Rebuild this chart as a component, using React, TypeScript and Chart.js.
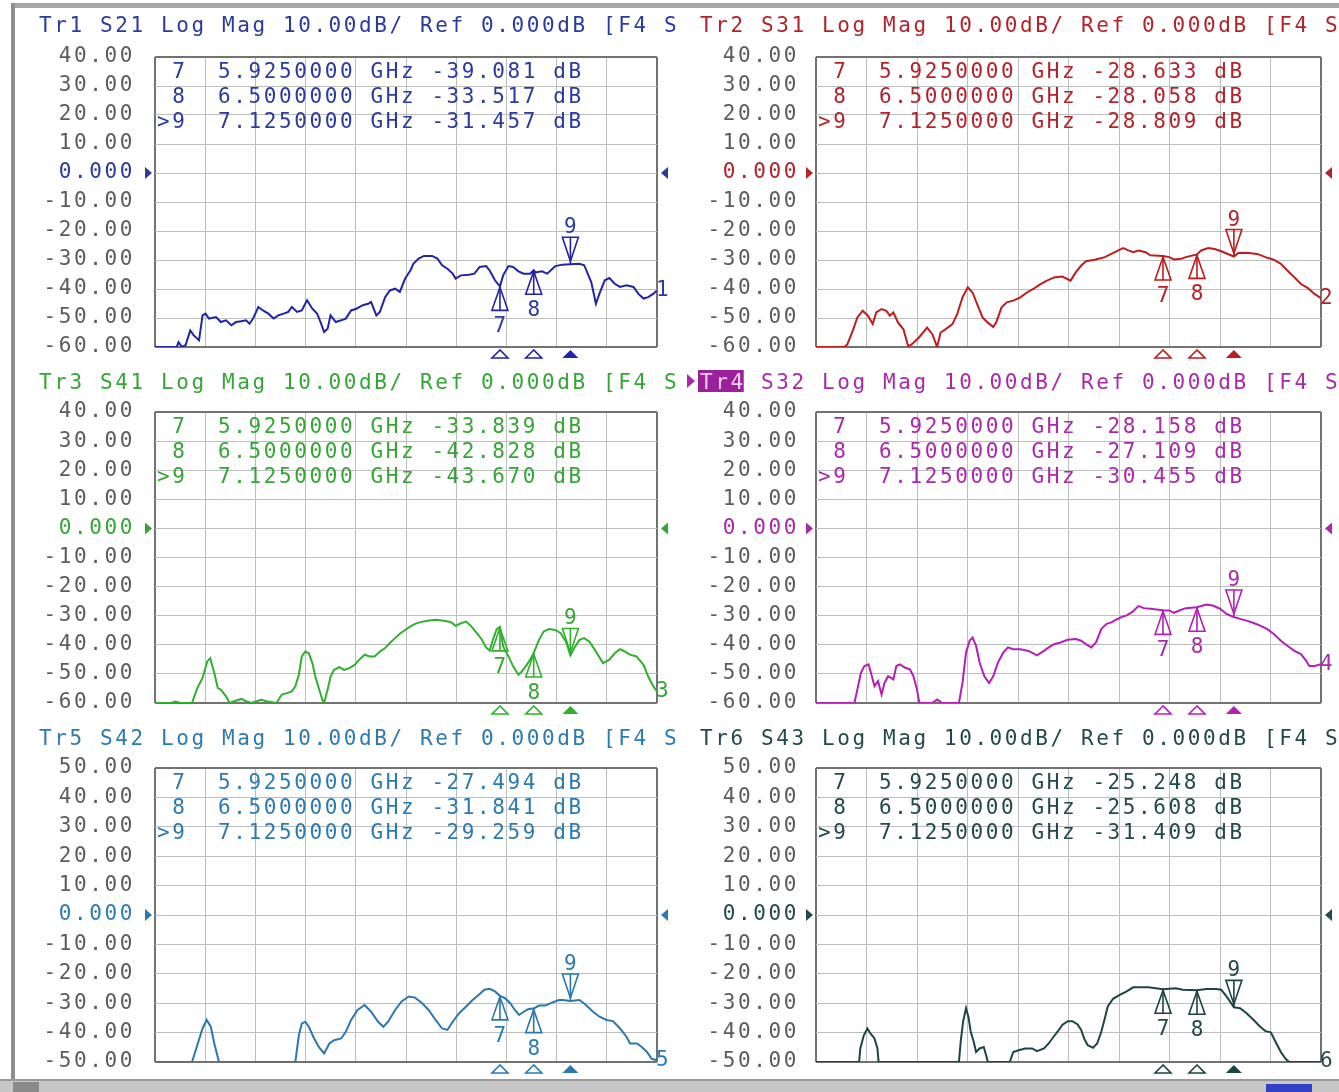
import React, { useEffect, useRef } from "react";
import { Chart, registerables } from "chart.js";

Chart.register(...registerables);

// ---------- style constants ----------
const FONT_FAMILY = '"DejaVu Sans Mono", "Liberation Mono", monospace';
const FONT_SIZE = 21;
const LETTER_SPACING = "2.6px";
const GRID_COLOR = "#bdbdbd";
const FRAME_COLOR = "#727272";
const LABEL_GRAY = "#5c5c5c";
const HIGHLIGHT_BG = "#9c1f9c";
const HIGHLIGHT_TEXT = "#f3d2f3";

// ---------- axis settings ----------
const FREQ_START = 0.05; // GHz
const FREQ_STOP = 8.6; // GHz
const X_DIVISIONS = 10;

// ---------- markers ----------
const markerNames = ["7", "8", "9"];
const markerFreqs = [5.925, 6.5, 7.125]; // GHz
const ACTIVE_MARKER = "9";

const s21Markers = [-39.081, -33.517, -31.457];
const s31Markers = [-28.633, -28.058, -28.809];
const s41Markers = [-33.839, -42.828, -43.67];
const s32Markers = [-28.158, -27.109, -30.455];
const s42Markers = [-27.494, -31.841, -29.259];
const s43Markers = [-25.248, -25.608, -31.409];

// ---------- traces: [GHz, dB] ----------
const s21Trace = [
  [0.05, -60], [0.42, -60], [0.45, -58.3], [0.51, -60], [0.57, -59.4], [0.65, -54.3], [0.71, -56.0], [0.8, -57.7],
  [0.86, -49.1], [0.91, -48.5], [0.97, -50.2], [1.09, -49.7], [1.17, -51.4], [1.26, -50.8], [1.35, -52.5], [1.43, -51.4],
  [1.52, -51.1], [1.6, -50.8], [1.66, -52.0], [1.72, -50.2], [1.81, -46.2], [1.89, -47.4], [1.98, -48.5], [2.07, -50.2],
  [2.15, -49.1], [2.24, -48.5], [2.32, -47.9], [2.38, -46.2], [2.47, -47.9], [2.55, -47.4], [2.64, -43.9], [2.73, -46.8],
  [2.81, -48.5], [2.87, -51.4], [2.93, -54.8], [2.99, -53.7], [3.04, -49.1], [3.13, -51.4], [3.22, -50.8], [3.3, -50.2],
  [3.39, -47.4], [3.48, -46.8], [3.59, -45.6], [3.68, -45.1], [3.73, -44.5], [3.82, -49.1], [3.88, -47.9], [3.97, -42.8],
  [4.05, -40.5], [4.14, -39.9], [4.22, -41.0], [4.31, -36.4], [4.4, -33.6], [4.45, -31.3], [4.54, -29.5], [4.63, -28.6],
  [4.77, -28.6], [4.86, -29.5], [4.94, -31.8], [5.03, -33.0], [5.12, -34.7], [5.17, -36.4], [5.26, -35.3], [5.4, -35.1],
  [5.49, -34.7], [5.58, -32.4], [5.69, -32.1], [5.75, -33.6], [5.84, -37.0], [5.925, -39.081], [5.98, -35.3], [6.07, -32.1],
  [6.15, -32.4], [6.24, -33.9], [6.33, -34.7], [6.44, -34.7], [6.5, -33.517], [6.53, -34.3], [6.64, -33.9], [6.73, -34.7],
  [6.82, -33.0], [6.87, -32.1], [6.99, -31.6], [7.125, -31.457], [7.28, -31.3], [7.36, -31.8], [7.42, -34.7], [7.48, -37.6],
  [7.56, -45.1], [7.62, -41.6], [7.71, -37.0], [7.79, -36.2], [7.88, -38.2], [7.97, -39.3], [8.08, -38.7], [8.2, -39.3],
  [8.28, -41.6], [8.37, -43.3], [8.45, -42.8], [8.54, -41.6], [8.6, -40.5],
];

const s31Trace = [
  [0.05, -60], [0.53, -60], [0.58, -59.1], [0.67, -54.5], [0.75, -49.8], [0.84, -47.5], [0.93, -49.2], [1.01, -52.1],
  [1.07, -48.1], [1.16, -46.9], [1.24, -47.5], [1.3, -49.2], [1.36, -48.1], [1.44, -51.6], [1.53, -53.9], [1.61, -59.7],
  [1.67, -59.1], [1.79, -56.8], [1.93, -53.3], [2.02, -55.6], [2.1, -60], [2.16, -55.0], [2.24, -53.9], [2.36, -52.1],
  [2.44, -48.7], [2.53, -42.9], [2.62, -39.4], [2.7, -41.2], [2.79, -45.8], [2.87, -49.8], [2.96, -51.6], [3.05, -53.1],
  [3.1, -51.6], [3.19, -46.4], [3.28, -44.6], [3.39, -44.0], [3.51, -42.9], [3.62, -41.2], [3.73, -40.0], [3.85, -38.3],
  [3.96, -37.1], [4.08, -36.0], [4.22, -35.7], [4.36, -37.1], [4.45, -34.2], [4.54, -31.9], [4.62, -30.4], [4.77, -29.9],
  [4.94, -29.0], [5.05, -27.9], [5.17, -26.7], [5.25, -25.9], [5.34, -26.7], [5.42, -27.3], [5.51, -26.7], [5.63, -27.3],
  [5.71, -28.4], [5.925, -28.633], [6.03, -29.0], [6.11, -29.8], [6.23, -29.6], [6.31, -29.0], [6.5, -28.058], [6.57, -26.7],
  [6.69, -25.9], [6.8, -26.2], [6.91, -27.0], [7.125, -28.809], [7.2, -27.6], [7.34, -27.5], [7.52, -27.9], [7.66, -29.0],
  [7.8, -29.9], [7.92, -31.3], [8.03, -33.6], [8.15, -36.0], [8.26, -38.3], [8.38, -39.7], [8.49, -41.7], [8.6, -43.2],
];

const s41Trace = [
  [0.05, -60], [0.31, -60], [0.4, -59.5], [0.48, -60], [0.68, -60], [0.77, -54.9], [0.86, -51.4], [0.94, -45.7],
  [0.99, -44.6], [1.06, -49.7], [1.12, -54.9], [1.17, -55.4], [1.26, -57.7], [1.32, -60], [1.4, -59.4], [1.52, -58.6],
  [1.6, -59.4], [1.69, -60], [1.78, -59.4], [1.86, -58.9], [1.95, -59.4], [2.12, -60], [2.21, -57.1], [2.3, -56.6],
  [2.38, -56.0], [2.44, -54.3], [2.5, -50.3], [2.55, -44.0], [2.61, -42.3], [2.67, -42.9], [2.73, -46.3], [2.78, -50.9],
  [2.84, -54.9], [2.9, -58.9], [2.93, -60], [2.99, -55.4], [3.04, -50.9], [3.1, -48.6], [3.19, -47.7], [3.27, -48.6],
  [3.36, -48.0], [3.45, -46.9], [3.53, -45.1], [3.62, -43.4], [3.71, -44.0], [3.79, -44.0], [3.88, -42.3], [3.97, -41.1],
  [4.05, -39.4], [4.14, -37.7], [4.22, -36.2], [4.31, -34.9], [4.4, -33.7], [4.48, -32.8], [4.57, -32.2], [4.69, -31.7],
  [4.83, -31.4], [4.97, -31.7], [5.09, -32.2], [5.17, -33.5], [5.26, -32.6], [5.35, -32.0], [5.43, -33.5], [5.52, -35.7],
  [5.61, -38.0], [5.69, -40.9], [5.75, -42.0], [5.81, -38.0], [5.87, -34.6], [5.925, -33.839], [5.98, -40.6], [6.07, -44.0],
  [6.15, -47.4], [6.24, -50.3], [6.3, -49.1], [6.38, -46.9], [6.44, -45.1], [6.5, -42.828], [6.59, -38.3], [6.67, -35.4],
  [6.76, -34.6], [6.87, -34.9], [6.96, -36.0], [7.05, -38.9], [7.125, -43.67], [7.19, -41.1], [7.28, -38.3], [7.36, -37.7],
  [7.45, -38.9], [7.56, -42.3], [7.68, -46.3], [7.79, -45.1], [7.88, -42.9], [7.97, -41.5], [8.05, -42.3], [8.14, -43.4],
  [8.25, -44.0], [8.37, -46.9], [8.45, -50.9], [8.54, -54.3], [8.6, -56.0],
];

const s32Trace = [
  [0.05, -60], [0.7, -60], [0.75, -55.4], [0.81, -49.6], [0.87, -47.3], [0.94, -46.7], [0.98, -49.6], [1.04, -54.2],
  [1.1, -52.5], [1.16, -57.1], [1.21, -53.1], [1.27, -50.8], [1.36, -51.9], [1.41, -47.3], [1.47, -46.7], [1.56, -47.9],
  [1.64, -48.4], [1.7, -50.8], [1.76, -55.4], [1.8, -60], [2.02, -60], [2.1, -58.8], [2.19, -60], [2.47, -60],
  [2.53, -53.1], [2.59, -42.7], [2.65, -38.6], [2.7, -37.5], [2.76, -40.3], [2.82, -46.1], [2.9, -50.8], [2.98, -53.1],
  [3.05, -50.8], [3.13, -46.1], [3.22, -42.7], [3.3, -40.9], [3.39, -41.5], [3.51, -41.5], [3.65, -42.1], [3.79, -43.6],
  [3.91, -42.1], [3.99, -40.9], [4.08, -39.8], [4.19, -39.2], [4.31, -38.3], [4.45, -38.0], [4.54, -38.6], [4.62, -39.8],
  [4.71, -40.9], [4.79, -39.2], [4.88, -34.6], [4.97, -32.8], [5.05, -32.3], [5.14, -31.3], [5.22, -30.5], [5.31, -29.9],
  [5.4, -28.8], [5.51, -26.7], [5.6, -27.4], [5.71, -27.6], [5.925, -28.158], [6.03, -28.2], [6.11, -29.0], [6.2, -28.2],
  [6.31, -27.4], [6.5, -27.109], [6.66, -26.2], [6.77, -26.5], [6.89, -27.6], [7.0, -29.4], [7.125, -30.455], [7.23, -31.1],
  [7.34, -31.7], [7.46, -32.5], [7.57, -33.4], [7.69, -34.6], [7.8, -36.3], [7.92, -38.6], [8.03, -40.3], [8.15, -42.1],
  [8.26, -43.2], [8.35, -45.5], [8.4, -47.3], [8.49, -47.3], [8.6, -46.7],
];

const s42Trace = [
  [0.05, -50], [0.68, -50], [0.77, -44.3], [0.86, -38.6], [0.93, -35.7], [1.0, -38.0], [1.06, -43.7], [1.14, -50],
  [2.44, -50], [2.5, -40.9], [2.55, -36.9], [2.61, -36.3], [2.67, -38.0], [2.76, -42.0], [2.84, -44.9], [2.93, -47.1],
  [3.02, -43.7], [3.1, -42.6], [3.22, -42.0], [3.3, -39.7], [3.39, -35.7], [3.5, -32.3], [3.62, -30.6], [3.73, -32.9],
  [3.85, -36.3], [3.94, -38.0], [4.02, -36.3], [4.14, -32.3], [4.25, -29.4], [4.37, -27.7], [4.48, -28.1], [4.6, -30.0],
  [4.71, -32.3], [4.83, -35.7], [4.94, -38.6], [5.03, -39.1], [5.12, -36.3], [5.23, -33.4], [5.35, -31.1], [5.46, -28.9],
  [5.58, -26.9], [5.66, -25.4], [5.75, -25.1], [5.84, -26.0], [5.925, -27.494], [6.01, -28.3], [6.1, -30.0], [6.18, -32.3],
  [6.25, -34.0], [6.33, -32.9], [6.41, -32.0], [6.5, -31.841], [6.59, -30.8], [6.7, -30.8], [6.82, -29.7], [6.93, -28.9],
  [6.99, -28.9], [7.125, -29.259], [7.28, -28.9], [7.39, -30.6], [7.51, -32.9], [7.62, -34.6], [7.74, -35.7], [7.85, -36.1],
  [7.97, -38.6], [8.08, -41.4], [8.14, -43.7], [8.26, -43.7], [8.34, -44.9], [8.43, -46.6], [8.51, -48.9], [8.6, -49.4],
];

const s43Trace = [
  [0.05, -50], [0.78, -50], [0.8, -45.4], [0.86, -40.9], [0.92, -38.6], [0.97, -40.3], [1.04, -42.0], [1.09, -45.4],
  [1.11, -50], [2.47, -50], [2.5, -43.1], [2.54, -36.3], [2.59, -31.7], [2.63, -34.6], [2.67, -39.7], [2.72, -43.1],
  [2.76, -46.6], [2.82, -45.4], [2.89, -44.9], [2.93, -47.7], [2.96, -50], [3.33, -50], [3.39, -46.6], [3.48, -46.0],
  [3.59, -45.4], [3.71, -45.4], [3.79, -46.3], [3.91, -45.4], [3.99, -43.7], [4.05, -42.0], [4.14, -39.7], [4.22, -37.4],
  [4.31, -36.1], [4.39, -36.1], [4.48, -37.2], [4.54, -39.1], [4.59, -42.0], [4.65, -44.3], [4.74, -45.2], [4.81, -43.7],
  [4.88, -39.7], [4.94, -35.1], [4.99, -31.1], [5.08, -28.5], [5.2, -27.1], [5.31, -26.0], [5.42, -24.6], [5.68, -24.6],
  [5.925, -25.248], [6.14, -24.9], [6.26, -25.4], [6.5, -25.608], [6.66, -25.2], [6.83, -25.2], [6.91, -25.4], [7.0, -27.7],
  [7.125, -31.409], [7.23, -31.7], [7.34, -33.4], [7.46, -35.7], [7.57, -38.0], [7.66, -39.5], [7.75, -39.9], [7.83, -43.1],
  [7.92, -46.6], [8.0, -48.9], [8.06, -50], [8.6, -50],
];

// ---------- layout ----------
const COLS = [
  { x0: 10, w: 670, axisW: 145, padR: 23, tickPad: 20, titleX: 39 },
  { x0: 680, w: 659, axisW: 136, padR: 18, tickPad: 17, titleX: 700 },
];
const ROWS = [
  { y0: 8, h: 357, padT: 49, padB: 18, titleY: 32 },
  { y0: 365, h: 357, padT: 47, padB: 19, titleY: 389 },
  { y0: 722, h: 356, padT: 46, padB: 16, titleY: 745 },
];

type PanelDef = {
  name: string;
  param: string;
  trace: number[][];
  markers: number[];
  col: number;
  row: number;
  yMin: number;
  yMax: number;
  traceColor: string;
  textColor: string;
  endLabel: string;
  active?: boolean;
};

const PANELS: PanelDef[] = [
  { name: "Tr1", param: "S21", trace: s21Trace, markers: s21Markers, col: 0, row: 0, yMin: -60, yMax: 40, traceColor: "#2323a6", textColor: "#2b3a9e", endLabel: "1" },
  { name: "Tr2", param: "S31", trace: s31Trace, markers: s31Markers, col: 1, row: 0, yMin: -60, yMax: 40, traceColor: "#bf1d1d", textColor: "#b3232b", endLabel: "2" },
  { name: "Tr3", param: "S41", trace: s41Trace, markers: s41Markers, col: 0, row: 1, yMin: -60, yMax: 40, traceColor: "#2fb02f", textColor: "#35a535", endLabel: "3" },
  { name: "Tr4", param: "S32", trace: s32Trace, markers: s32Markers, col: 1, row: 1, yMin: -60, yMax: 40, traceColor: "#b51fb5", textColor: "#a92aa9", endLabel: "4", active: true },
  { name: "Tr5", param: "S42", trace: s42Trace, markers: s42Markers, col: 0, row: 2, yMin: -50, yMax: 50, traceColor: "#2a78ad", textColor: "#2b7bb0", endLabel: "5" },
  { name: "Tr6", param: "S43", trace: s43Trace, markers: s43Markers, col: 1, row: 2, yMin: -50, yMax: 50, traceColor: "#1d4444", textColor: "#234a4a", endLabel: "6" },
];

const FONT = `${FONT_SIZE}px ${FONT_FAMILY}`;

function setSpacing(ctx: any) {
  ctx.letterSpacing = LETTER_SPACING;
}

function makeVnaPlugin(p: PanelDef) {
  const col = COLS[p.col];
  const row = ROWS[p.row];
  return {
    id: "vna" + p.name,
    beforeDraw(chart: any) {
      setSpacing(chart.ctx);
    },
    afterDatasetsDraw(chart: any) {
      const ctx = chart.ctx;
      const { left, right, top, bottom } = chart.chartArea;
      const xs = chart.scales.x;
      const ys = chart.scales.y;
      ctx.save();
      setSpacing(ctx);
      ctx.font = FONT;

      // marker readout table
      ctx.fillStyle = p.textColor;
      ctx.textAlign = "left";
      ctx.textBaseline = "alphabetic";
      markerNames.forEach((m, i) => {
        const prefix = m === ACTIVE_MARKER ? ">" : " ";
        const line = `${prefix}${m}  ${markerFreqs[i].toFixed(7)} GHz ${p.markers[i].toFixed(3)} dB`;
        ctx.fillText(line, left + 2, top + 21 + i * 25);
      });

      // reference level arrows
      const yRef = ys.getPixelForValue(0);
      ctx.beginPath();
      ctx.moveTo(left - 10, yRef - 6);
      ctx.lineTo(left - 3, yRef);
      ctx.lineTo(left - 10, yRef + 6);
      ctx.closePath();
      ctx.fill();
      ctx.beginPath();
      ctx.moveTo(right + 11, yRef - 6);
      ctx.lineTo(right + 4, yRef);
      ctx.lineTo(right + 11, yRef + 6);
      ctx.closePath();
      ctx.fill();

      // markers on trace
      ctx.strokeStyle = p.traceColor;
      ctx.lineWidth = 1.6;
      ctx.textAlign = "center";
      markerNames.forEach((m, i) => {
        const x = xs.getPixelForValue(markerFreqs[i]);
        const y = ys.getPixelForValue(p.markers[i]);
        const isActive = m === ACTIVE_MARKER;
        if (isActive) {
          ctx.beginPath();
          ctx.moveTo(x - 8, y - 27);
          ctx.lineTo(x + 8, y - 27);
          ctx.lineTo(x, y - 3);
          ctx.closePath();
          ctx.stroke();
          ctx.beginPath();
          ctx.moveTo(x, y - 27);
          ctx.lineTo(x, y);
          ctx.stroke();
          ctx.fillText(m, x + 1.3, y - 31);
        } else {
          ctx.beginPath();
          ctx.moveTo(x, y + 1);
          ctx.lineTo(x - 8, y + 24);
          ctx.lineTo(x + 8, y + 24);
          ctx.closePath();
          ctx.stroke();
          ctx.beginPath();
          ctx.moveTo(x, y);
          ctx.lineTo(x, y + 24);
          ctx.stroke();
          ctx.fillText(m, x + 1.3, y + 46);
        }
        // indicator under the grid
        ctx.beginPath();
        ctx.moveTo(x, bottom + 3);
        ctx.lineTo(x - 8, bottom + 11);
        ctx.lineTo(x + 8, bottom + 11);
        ctx.closePath();
        if (isActive) {
          ctx.fillStyle = p.traceColor;
          ctx.fill();
          ctx.fillStyle = p.textColor;
        } else {
          ctx.stroke();
        }
      });

      // trace number at the end of the trace
      const last = p.trace[p.trace.length - 1];
      ctx.textAlign = "left";
      ctx.textBaseline = "middle";
      ctx.fillText(p.endLabel, right - 1, ys.getPixelForValue(last[1]));
      ctx.restore();
    },
    afterDraw(chart: any) {
      const ctx = chart.ctx;
      ctx.save();
      setSpacing(ctx);
      ctx.font = FONT;
      ctx.textAlign = "left";
      ctx.textBaseline = "alphabetic";
      const tx = col.titleX - col.x0;
      const ty = row.titleY - row.y0;
      const head = p.name;
      const rest = ` ${p.param} Log Mag 10.00dB/ Ref 0.000dB [F4 S`;
      if (p.active) {
        const hw = ctx.measureText(head).width;
        ctx.fillStyle = p.textColor;
        ctx.beginPath();
        ctx.moveTo(tx - 13, ty - 15);
        ctx.lineTo(tx - 5, ty - 8);
        ctx.lineTo(tx - 13, ty - 1);
        ctx.closePath();
        ctx.fill();
        ctx.fillStyle = HIGHLIGHT_BG;
        ctx.fillRect(tx - 2, ty - 19, hw, 22);
        ctx.fillStyle = HIGHLIGHT_TEXT;
        ctx.fillText(head, tx, ty);
        ctx.fillStyle = p.textColor;
        ctx.fillText(rest, tx + hw, ty);
      } else {
        ctx.fillStyle = p.textColor;
        ctx.fillText(head + rest, tx, ty);
      }
      ctx.restore();
    },
  };
}

const isEdge = (c: any) => c.index === 0 || c.index === c.scale.ticks.length - 1;

function Panel({ p }: { p: PanelDef }) {
  const ref = useRef<HTMLCanvasElement>(null);
  const col = COLS[p.col];
  const row = ROWS[p.row];
  useEffect(() => {
    const gridOpts = () => ({
      drawTicks: false,
      color: (c: any) => (isEdge(c) ? FRAME_COLOR : GRID_COLOR),
      lineWidth: (c: any) => (isEdge(c) ? 2 : 1),
    });
    const chart = new Chart(ref.current as HTMLCanvasElement, {
      type: "line",
      data: {
        datasets: [
          {
            data: p.trace.map(([f, v]) => ({ x: f, y: v })),
            borderColor: p.traceColor,
            borderWidth: 2,
            pointRadius: 0,
            tension: 0,
            fill: false,
          },
        ],
      },
      options: {
        animation: false,
        responsive: false,
        devicePixelRatio: 1,
        events: [],
        layout: { padding: { left: 0, top: row.padT, right: col.padR, bottom: row.padB } },
        plugins: { legend: { display: false }, tooltip: { enabled: false }, title: { display: false } },
        scales: {
          x: {
            type: "linear",
            min: FREQ_START,
            max: FREQ_STOP,
            ticks: { display: false },
            grid: gridOpts(),
            border: { display: false },
            afterBuildTicks: (s: any) => {
              const t = [];
              for (let i = 0; i <= X_DIVISIONS; i++) {
                t.push({ value: FREQ_START + ((FREQ_STOP - FREQ_START) * i) / X_DIVISIONS });
              }
              s.ticks = t;
            },
          },
          y: {
            type: "linear",
            min: p.yMin,
            max: p.yMax,
            ticks: {
              stepSize: 10,
              autoSkip: false,
              padding: col.tickPad,
              color: (c: any) => (c.tick && c.tick.value === 0 ? p.textColor : LABEL_GRAY),
              font: { family: FONT_FAMILY, size: FONT_SIZE },
              callback: (v: any) => (Number(v) === 0 ? "0.000" : Number(v).toFixed(2)),
            },
            grid: gridOpts(),
            border: { display: false },
            afterFit: (s: any) => {
              s.width = col.axisW;
              s.paddingTop = 0;
              s.paddingBottom = 0;
            },
          },
        },
      } as any,
      plugins: [makeVnaPlugin(p)],
    });
    return () => chart.destroy();
  }, []);
  return (
    <canvas
      ref={ref}
      width={col.w}
      height={row.h}
      style={{ position: "absolute", left: col.x0, top: row.y0, width: col.w, height: row.h }}
    />
  );
}

export default function App() {
  return (
    <div
      style={{
        position: "absolute",
        left: 0,
        top: 0,
        width: 1339,
        height: 1092,
        background: "#ffffff",
        overflow: "hidden",
      }}
    >
      {/* instrument frame */}
      <div style={{ position: "absolute", left: 11, top: 3, width: 1328, height: 5, background: "#a8a8a8" }} />
      <div style={{ position: "absolute", left: 11, top: 3, width: 4, height: 1078, background: "#8e8e8e" }} />
      <div style={{ position: "absolute", left: 0, top: 1079, width: 1339, height: 13, background: "#c6c6c6", borderTop: "2px solid #9a9a9a", boxSizing: "border-box" }} />
      <div style={{ position: "absolute", left: 13, top: 1082, width: 26, height: 10, background: "#8a8a8a" }} />
      <div style={{ position: "absolute", left: 1266, top: 1084, width: 46, height: 8, background: "#3340c8" }} />
      {PANELS.map((p) => (
        <Panel key={p.name} p={p} />
      ))}
    </div>
  );
}
